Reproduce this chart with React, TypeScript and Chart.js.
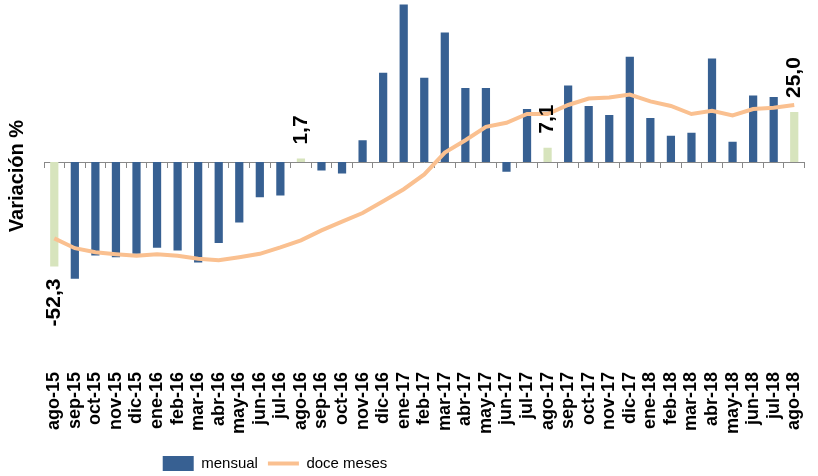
import React, { useEffect, useRef } from 'react';
import { Chart, registerables } from 'chart.js';

Chart.register(...registerables);

const categories = [
  'ago-15', 'sep-15', 'oct-15', 'nov-15', 'dic-15', 'ene-16', 'feb-16', 'mar-16', 'abr-16', 'may-16',
  'jun-16', 'jul-16', 'ago-16', 'sep-16', 'oct-16', 'nov-16', 'dic-16', 'ene-17', 'feb-17', 'mar-17',
  'abr-17', 'may-17', 'jun-17', 'jul-17', 'ago-17', 'sep-17', 'oct-17', 'nov-17', 'dic-17', 'ene-18',
  'feb-18', 'mar-18', 'abr-18', 'may-18', 'jun-18', 'jul-18', 'ago-18',
];

const mensual = [
  -52.3, -58.4, -46.7, -47.6, -45.9, -42.9, -44.2, -50.3, -40.5, -30.2,
  -17.6, -16.7, 1.7, -4.2, -5.7, 10.9, 44.6, 78.7, 42.1, 64.7,
  37.0, 37.0, -4.9, 26.5, 7.1, 38.3, 28.0, 23.5, 52.6, 22.0,
  13.1, 14.6, 51.8, 10.1, 33.2, 32.5, 25.0,
];

const doceMeses = [
  -38.2, -43.1, -45.1, -46.1, -46.9, -46.1, -46.9, -48.4, -49.1, -47.6,
  -45.9, -42.7, -39.2, -34.2, -29.8, -25.5, -19.6, -13.6, -6.2, 4.7,
  10.9, 17.6, 19.6, 24.0, 24.0, 28.5, 31.7, 32.3, 33.7, 30.3,
  28.0, 24.0, 25.6, 23.3, 26.5, 27.1, 28.5,
];

const highlighted = ['ago-15', 'ago-16', 'ago-17', 'ago-18'];
const yMin = -100;
const yMax = 80;

const BLUE = '#376092';
const GREEN = '#D7E4BD';
const ORANGE = '#FAC090';
const SANS = '"Liberation Sans", Arial, sans-serif';

const barLabelPlugin = {
  id: 'barLabels',
  afterDatasetsDraw(chart: any) {
    const meta = chart.getDatasetMeta(0);
    const ctx = chart.ctx;
    ctx.save();
    ctx.font = `bold 21px ${SANS}`;
    ctx.fillStyle = '#000';
    ctx.textBaseline = 'middle';
    highlighted.forEach((cat) => {
      const i = categories.indexOf(cat);
      const el = meta.data[i];
      const v = mensual[i];
      const text = v.toFixed(1).replace('.', ',');
      ctx.save();
      ctx.translate(el.x, el.y + (v >= 0 ? -14 : 12));
      ctx.rotate(-Math.PI / 2);
      ctx.textAlign = v >= 0 ? 'left' : 'right';
      ctx.fillText(text, 0, 0);
      ctx.restore();
    });
    ctx.restore();
  },
};

const yTitlePlugin = {
  id: 'yTitle',
  afterDraw(chart: any) {
    const ctx = chart.ctx;
    const area = chart.chartArea;
    ctx.save();
    ctx.font = `bold 20px ${SANS}`;
    ctx.fillStyle = '#000';
    ctx.textAlign = 'center';
    ctx.textBaseline = 'middle';
    ctx.translate(area.left - 27, (area.top + area.bottom) / 2 - 6);
    ctx.rotate(-Math.PI / 2);
    ctx.fillText('Variación %', 0, 0);
    ctx.restore();
  },
};

// place the legend a little left of centre and lower, as in the original
const legendShiftPlugin = {
  id: 'legendShift',
  afterLayout(chart: any) {
    const lg = chart.legend;
    if (!lg) return;
    lg.left -= 150;
    lg.right -= 150;
    lg.top += 5;
    lg.bottom += 5;
  },
};

export default function App() {
  const ref = useRef<HTMLCanvasElement | null>(null);

  useEffect(() => {
    if (!ref.current) return;
    const chart = new Chart(ref.current, {
      type: 'bar',
      data: {
        labels: categories,
        datasets: [
          {
            type: 'bar',
            label: 'mensual',
            data: mensual,
            backgroundColor: categories.map((c) => (highlighted.includes(c) ? GREEN : BLUE)),
            borderWidth: 0,
            categoryPercentage: 1,
            barPercentage: 0.4,
            order: 1,
            xAxisID: 'x',
          },
          {
            type: 'line',
            label: 'doce meses',
            data: doceMeses,
            borderColor: ORANGE,
            backgroundColor: ORANGE,
            borderWidth: 4,
            pointRadius: 0,
            tension: 0,
            order: 0,
            xAxisID: 'x',
          },
        ],
      },
      options: {
        animation: false,
        responsive: true,
        maintainAspectRatio: false,
        layout: { padding: { left: 44, right: 12, top: 2, bottom: 0 } },
        scales: {
          x: {
            offset: true,
            grid: { display: false },
            border: { display: false },
            ticks: {
              autoSkip: false,
              maxRotation: 90,
              minRotation: 90,
              padding: 2,
              color: '#000',
              font: { family: SANS, weight: 'bold', size: 18 },
            },
            afterFit: (scale: any) => {
              scale.height = 79;
            },
          },
          x2: {
            type: 'category',
            position: { y: 0 } as any,
            offset: true,
            grid: {
              display: true,
              drawOnChartArea: false,
              drawTicks: true,
              tickLength: 5,
              offset: true,
              color: '#888888',
            },
            border: { display: true, color: '#888888', width: 1 },
            ticks: { display: false },
          },
          y: {
            display: false,
            min: yMin,
            max: yMax,
          },
        },
        plugins: {
          tooltip: { enabled: false },
          legend: {
            position: 'bottom',
            labels: {
              usePointStyle: true,
              pointStyleWidth: 31,
              boxHeight: 15,
              padding: 10,
              color: '#000',
              font: { family: SANS, size: 15 },
              sort: (a: any, b: any) => a.datasetIndex - b.datasetIndex,
              generateLabels: (c: any) => {
                const items = Chart.defaults.plugins.legend.labels.generateLabels(c);
                return items.map((it: any) => {
                  if (it.datasetIndex === 0) {
                    return { ...it, pointStyle: 'rect', fillStyle: BLUE, strokeStyle: BLUE, lineWidth: 0 };
                  }
                  return { ...it, pointStyle: 'line', fillStyle: ORANGE, strokeStyle: ORANGE, lineWidth: 4 };
                });
              },
            },
          },
        },
      },
      plugins: [barLabelPlugin, yTitlePlugin, legendShiftPlugin],
    });
    return () => chart.destroy();
  }, []);

  return (
    <div style={{ position: 'fixed', left: 0, top: 0, width: 818, height: 476 }}>
      <canvas ref={ref} />
    </div>
  );
}
